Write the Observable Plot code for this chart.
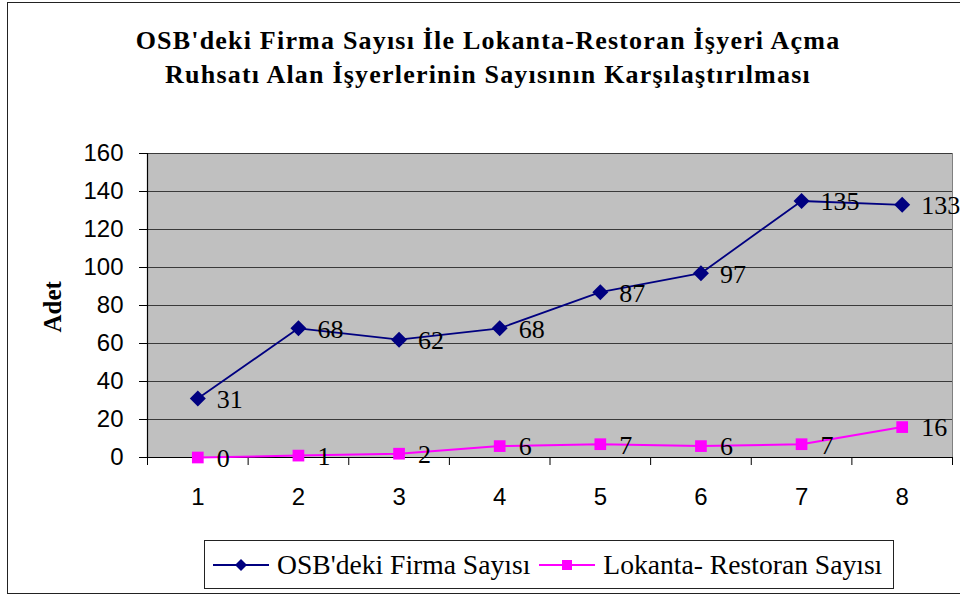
<!DOCTYPE html>
<html>
<head>
<meta charset="utf-8">
<script src="https://cdn.jsdelivr.net/npm/d3@7"></script>
<script src="https://cdn.jsdelivr.net/npm/@observablehq/plot@0.6"></script>
<style>
  html, body { margin: 0; padding: 0; background: #fff; }
  #wrap { position: relative; width: 960px; height: 597px; overflow: hidden; background: #fff; }
  #outer { position: absolute; left: 7px; top: 2px; width: 970px; height: 592px; border: 1.5px solid #222; box-sizing: border-box; }
  #title { position: absolute; left: 0; top: 24px; width: 976px; text-align: center;
           font-family: "Liberation Serif", serif; font-weight: bold; font-size: 26px; line-height: 34px;
           letter-spacing: 1.2px; color: #000; }
  #chart { position: absolute; left: 0; top: 110px; }
  #legend { position: absolute; left: 204px; top: 540px; width: 690px; height: 49px; box-sizing: border-box;
            border: 1px solid #222; display: flex; align-items: center; padding-left: 8px; padding-top: 1px;
            font-family: "Liberation Serif", serif; font-size: 27.6px; color: #000; white-space: nowrap; }
  #legend .item { display: flex; align-items: center; margin-right: 9px; }
  #legend svg { margin-right: 8px; }
</style>
</head>
<body>
<div id="wrap">
  <div id="outer"></div>
  <div id="title"></div>
  <div id="chart"></div>
  <div id="legend"></div>
</div>
<script>
const titleLines = [
  "OSB'deki Firma Sayısı İle Lokanta-Restoran İşyeri Açma",
  "Ruhsatı Alan İşyerlerinin Sayısının Karşılaştırılması"
];
const yTitle = "Adet";
const categories = [1, 2, 3, 4, 5, 6, 7, 8];
const seriesNames = ["OSB'deki Firma Sayısı", "Lokanta- Restoran Sayısı"];
const osbValues = [31, 68, 62, 68, 87, 97, 135, 133];
const lokantaValues = [0, 1, 2, 6, 7, 6, 7, 16];
const yTicks = [0, 20, 40, 60, 80, 100, 120, 140, 160];
const colors = ["#000080", "#FF00FF"];

document.getElementById("title").innerHTML = titleLines.join("<br>");

const data = [];
categories.forEach((c, i) => {
  data.push({cat: c, value: osbValues[i], series: seriesNames[0]});
  data.push({cat: c, value: lokantaValues[i], series: seriesNames[1]});
});
const osb = data.filter(d => d.series === seriesNames[0]);
const lok = data.filter(d => d.series === seriesNames[1]);

const diamond = {
  draw(ctx, size) {
    const h = Math.sqrt(size / 2);
    ctx.moveTo(0, -h); ctx.lineTo(h, 0); ctx.lineTo(0, h); ctx.lineTo(-h, 0); ctx.closePath();
  }
};

const W = 960, H = 430, mL = 147, mR = 8, mT = 43, mB = 83;
const step = (W - mL - mR) / categories.length;

const plot = Plot.plot({
  width: W, height: H,
  marginLeft: mL, marginRight: mR, marginTop: mT, marginBottom: mB,
  style: {background: "transparent", overflow: "visible"},
  x: {type: "point", domain: categories, padding: 0.5, round: false, label: null},
  y: {domain: [0, 160], label: null},
  marks: [
    Plot.frame({fill: "#C0C0C0", stroke: "#808080"}),
    Plot.gridY(yTicks, {stroke: "#3a3a3a", strokeOpacity: 1, strokeWidth: 1.2}),
    Plot.ruleY([0], {stroke: "#000", strokeWidth: 1.2}),
    Plot.frame({anchor: "left", stroke: "#000", strokeWidth: 1.2}),
    Plot.axisY(yTicks, {tickSize: 8, tickPadding: 16, fontSize: 24, fontFamily: "Liberation Sans, Arial, sans-serif", fill: "#000", label: null}),
    Plot.axisX({text: null, tickSize: 8, dx: -step / 2, label: null}),
    Plot.axisX([categories[categories.length - 1]], {text: null, tickSize: 8, dx: step / 2, label: null}),
    Plot.axisX({tickSize: 0, tickPadding: 30, fontSize: 24, fontFamily: "Liberation Sans, Arial, sans-serif", fill: "#000", label: null}),
    Plot.text([yTitle], {frameAnchor: "left", dx: -95, dy: 27, rotate: -90, fontSize: 25, fontWeight: "bold", fontFamily: "Liberation Serif, serif", fill: "#000"}),
    Plot.line(osb, {x: "cat", y: "value", stroke: colors[0], strokeWidth: 1.8}),
    Plot.line(lok, {x: "cat", y: "value", stroke: colors[1], strokeWidth: 2}),
    Plot.dot(osb, {x: "cat", y: "value", symbol: diamond, r: 6.4, fill: colors[0], stroke: "none"}),
    Plot.dot(lok, {x: "cat", y: "value", symbol: "square", r: 6.6, fill: colors[1], stroke: "none"}),
    Plot.text(data, {x: "cat", y: "value", text: d => String(d.value), textAnchor: "start", dx: 19, dy: 1,
      fontSize: 26, fontFamily: "Liberation Serif, serif", fill: "#000"})
  ]
});
document.getElementById("chart").appendChild(plot);

// legend
const legend = document.getElementById("legend");
seriesNames.forEach((name, i) => {
  const item = document.createElement("div");
  item.className = "item";
  const sw = i === 0
    ? `<svg width="56" height="20"><line x1="0" y1="10" x2="56" y2="10" stroke="${colors[0]}" stroke-width="2"/><path d="M28,4L34,10L28,16L22,10Z" fill="${colors[0]}"/></svg>`
    : `<svg width="56" height="20"><line x1="0" y1="10" x2="56" y2="10" stroke="${colors[1]}" stroke-width="2"/><rect x="23" y="5" width="10" height="10" fill="${colors[1]}"/></svg>`;
  item.innerHTML = sw + `<span>${name}</span>`;
  legend.appendChild(item);
});
</script>
</body>
</html>
